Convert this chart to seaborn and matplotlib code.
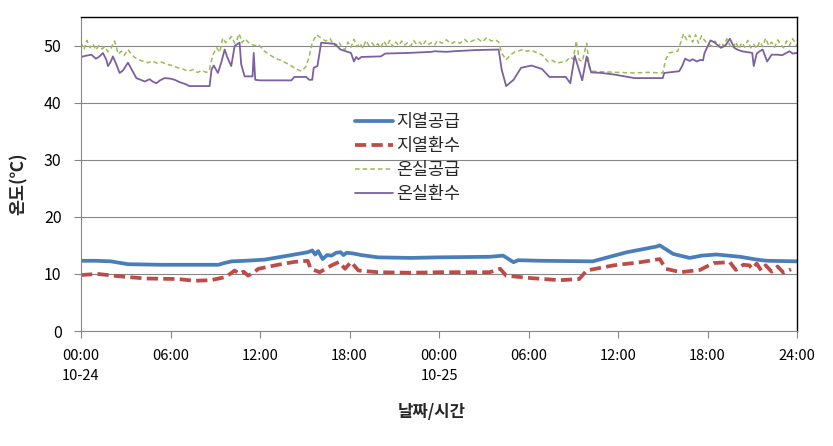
import matplotlib
matplotlib.use("Agg")
import matplotlib.pyplot as plt
import seaborn as sns
import numpy as np
import pandas as pd

sns.set_theme(style="white")
plt.rcParams['font.family'] = ['Noto Sans CJK KR', 'DejaVu Sans']

# ---- data (hours from 10-24 00:00) ----
series_names = ["지열공급", "지열환수", "온실공급", "온실환수"]

t_geo_supply = [0, 1.0, 2.0, 3.15, 5.4, 9.2, 9.6, 10.1, 11.0, 12.3, 13.2, 14.1, 15.2, 15.5, 15.7, 15.9,
                16.2, 16.5, 16.8, 17.1, 17.4, 17.6, 17.8, 18.2, 18.8, 19.9, 22.1, 23.9, 27.4, 28.3, 29.0,
                29.3, 30.8, 34.3, 36.6, 38.6, 38.8, 39.7, 40.8, 41.6, 42.6, 44.2, 45.3, 46.0, 48.0]
v_geo_supply = [12.3, 12.3, 12.2, 11.7, 11.6, 11.6, 11.9, 12.2, 12.3, 12.5, 12.9, 13.3, 13.8, 14.1, 13.4, 14.0,
                12.6, 13.3, 13.2, 13.7, 13.8, 13.3, 13.7, 13.6, 13.3, 12.9, 12.8, 12.9, 13.0, 13.2, 12.05,
                12.4, 12.3, 12.2, 13.8, 14.8, 15.0, 13.5, 12.8, 13.2, 13.4, 13.0, 12.5, 12.3, 12.2]

t_geo_return = [0, 1.1, 2.5, 4.3, 6.5, 7.6, 8.7, 9.6, 10.0, 10.3, 10.6, 10.9, 11.2, 11.5, 11.9, 13.2, 14.3,
                15.2, 15.4, 16.0, 16.8, 17.3, 17.7, 18.1, 18.6, 19.9, 22.1, 24.1, 27.4, 28.1, 28.5, 30.0,
                32.1, 33.4, 33.9, 35.7, 37.5, 38.8, 39.2, 40.2, 41.5, 42.4, 43.5, 43.9, 44.4, 44.8, 45.0,
                45.3, 45.6, 45.9, 46.3, 46.7, 47.1, 47.6]
v_geo_return = [9.8, 10.0, 9.6, 9.2, 9.1, 8.8, 8.9, 9.4, 10.0, 10.6, 10.0, 10.4, 9.7, 10.1, 10.9, 11.6, 12.1,
                12.3, 10.9, 10.3, 11.5, 12.1, 10.9, 12.1, 10.6, 10.3, 10.2, 10.3, 10.3, 10.9, 9.7, 9.3,
                8.9, 9.1, 10.6, 11.5, 12.05, 12.6, 10.9, 10.3, 10.7, 11.9, 12.05, 10.7, 11.6, 11.5, 10.9,
                11.8, 10.6, 11.5, 10.4, 11.3, 10.2, 10.8]

t_gh_supply = [0.0, 0.2, 0.4, 0.6, 0.8, 1.0, 1.2, 1.4, 1.6, 1.8, 2.0, 2.25, 2.5, 2.7, 2.9, 3.15, 3.4, 3.6,
               3.9, 4.2, 4.5, 4.8, 5.1, 5.4, 5.8, 6.1, 6.5, 6.8, 7.2, 7.5, 7.8, 8.1, 8.4, 8.6, 8.7, 8.9,
               9.1, 9.3, 9.5, 9.7, 9.9, 10.1, 10.3, 10.45, 10.6, 10.8, 11.0, 11.2, 11.4, 11.7, 11.9,
               12.3, 12.7, 13.0, 13.4, 13.7, 14.0, 14.3, 14.6, 14.8, 15.1, 15.3, 15.5, 15.8, 16.1, 16.4,
               16.7, 17.0, 17.3, 17.5, 17.7, 17.9, 18.1, 18.3, 18.5, 18.7, 18.9, 19.1, 19.3, 19.5, 19.7,
               19.9, 20.1, 20.3, 20.5, 20.7, 20.9, 21.1, 21.3, 21.5, 21.7, 21.9, 22.1, 22.3, 22.5, 22.7,
               22.9, 23.1, 23.3, 23.5, 23.7, 23.9, 24.2, 24.5, 24.8, 25.1, 25.4, 25.7, 26.0, 26.3, 26.6,
               26.9, 27.2, 27.5, 27.8, 28.0, 28.2, 28.5, 28.8, 29.1, 29.4, 29.6, 29.9, 30.2, 30.5, 30.9,
               31.1, 31.3, 31.6, 31.9, 32.2, 32.5, 32.8, 33.0, 33.2, 33.4, 33.6, 33.9, 34.1, 34.3, 35.0,
               36.0, 37.0, 38.0, 39.0, 39.2, 39.4, 39.8, 40.0, 40.2, 40.4, 40.6, 40.8, 41.0, 41.2, 41.4,
               41.6, 41.8, 42.0, 42.3, 42.5, 42.7, 42.9, 43.1, 43.3, 43.5, 43.7, 43.9, 44.1, 44.3, 44.5,
               44.7, 44.9, 45.1, 45.3, 45.5, 45.7, 45.9, 46.1, 46.3, 46.5, 46.7, 46.9, 47.1, 47.3, 47.5,
               47.7, 47.9, 48.0]
v_gh_supply = [50.5, 49.3, 50.9, 49.6, 50.3, 49.2, 50.0, 49.4, 49.8, 48.9, 49.5, 50.8, 48.5, 49.0, 48.3, 49.3,
               48.4, 47.9, 47.5, 47.2, 47.0, 47.3, 46.9, 47.1, 46.7, 46.5, 46.1, 45.9, 45.5, 45.8, 45.3,
               45.6, 45.3, 45.6, 47.0, 48.7, 49.6, 48.8, 51.3, 50.5, 51.0, 51.6, 50.4, 51.0, 52.1, 50.5,
               51.2, 50.6, 50.2, 50.0, 50.2, 49.0, 48.3, 47.8, 47.4, 47.0, 46.6, 46.1, 45.7, 45.5, 46.4,
               48.1, 50.5, 51.9, 51.3, 50.8, 51.2, 49.9, 50.6, 49.5, 49.3, 50.6, 49.7, 51.1, 49.8, 50.4,
               49.5, 50.9, 50.0, 50.5, 49.8, 50.3, 49.6, 50.8, 49.9, 50.9, 49.8, 50.6, 50.0, 50.8, 50.1,
               50.5, 49.9, 50.9, 50.2, 50.6, 50.0, 50.8, 50.2, 50.5, 50.1, 50.9, 50.4, 51.0, 50.3, 50.7,
               50.4, 51.1, 50.5, 50.9, 51.2, 50.6, 51.4, 50.8, 51.0, 50.6, 48.7, 47.5, 48.4, 48.9, 49.1,
               49.3, 49.0, 49.2, 48.8, 48.4, 47.8, 47.2, 47.4, 46.9, 47.1, 47.2, 48.0, 47.6, 50.8, 47.5,
               47.2, 50.4, 45.8, 45.5, 45.4, 45.3, 45.2, 45.3, 45.2, 47.5, 48.7, 48.9, 49.0, 50.5, 52.1,
               51.0, 51.8, 50.6, 51.9, 50.4, 51.7, 50.9, 50.3, 49.9, 50.8, 49.8, 50.5, 49.9, 51.2, 50.0,
               49.5, 50.6, 49.4, 50.5, 49.7, 50.9, 49.6, 50.2, 49.5, 50.7, 49.8, 51.3, 50.0, 50.6, 49.7,
               51.0, 50.2, 49.6, 50.8, 50.0, 51.2, 50.4, 49.9]

t_gh_return = [0.0, 0.3, 0.7, 1.0, 1.2, 1.47, 1.7, 1.81, 2.0, 2.14, 2.4, 2.59, 2.8, 3.0, 3.15, 3.4, 3.71,
               4.0, 4.27, 4.6, 4.8, 5.05, 5.3, 5.6, 6.0, 6.28, 6.6, 6.95, 7.28, 8.62, 8.75, 8.9, 9.18,
               9.4, 9.63, 9.8, 10.07, 10.3, 10.5, 10.63, 10.74, 10.97, 11.5, 11.58, 11.68, 12.0, 14.1,
               14.3, 15.1, 15.3, 15.5, 15.6, 15.85, 16.1, 17.0, 17.4, 18.1, 18.3, 18.45, 18.6, 18.8,
               20.1, 20.4, 21.9, 23.5, 23.7, 24.5, 25.0, 26.4, 28.0, 28.2, 28.5, 29.0, 29.5, 30.2, 30.9,
               31.4, 32.5, 32.8, 33.1, 33.6, 33.9, 34.2, 34.9, 35.8, 37.1, 39.0, 39.1, 40.1, 40.3, 40.5,
               40.8, 41.0, 41.3, 41.5, 41.7, 41.8, 42.2, 42.5, 42.7, 42.9, 43.2, 43.5, 43.8, 44.0, 44.3,
               44.8, 45.0, 45.1, 45.3, 45.5, 45.7, 46.0, 46.3, 46.7, 47.0, 47.5, 47.7, 48.0]
v_gh_return = [48.0, 48.2, 48.4, 47.7, 48.0, 48.7, 47.5, 46.4, 47.2, 48.1, 46.5, 45.2, 45.6, 46.4, 47.0, 45.8,
               44.3, 44.0, 43.7, 44.1, 43.7, 43.4, 43.9, 44.3, 44.2, 44.0, 43.6, 43.3, 42.9, 42.9, 45.8,
               46.5, 45.2, 47.0, 49.3, 48.0, 46.4, 49.9, 50.3, 50.5, 46.7, 44.6, 44.6, 48.7, 44.0, 43.9,
               43.9, 44.5, 44.5, 44.0, 44.0, 46.1, 46.4, 50.5, 50.3, 49.3, 48.7, 47.2, 48.0, 47.6, 48.0,
               48.1, 48.6, 48.7, 48.9, 49.0, 48.9, 49.0, 49.2, 49.3, 45.8, 42.9, 44.0, 46.1, 46.5, 45.9,
               44.5, 44.5, 43.4, 48.2, 43.9, 48.1, 45.3, 45.2, 44.9, 44.3, 44.3, 45.2, 45.5, 46.4, 47.7,
               47.3, 47.6, 47.2, 47.5, 47.4, 48.7, 50.9, 50.5, 50.0, 49.6, 50.0, 51.2, 49.6, 49.3, 49.0,
               48.8, 48.7, 46.4, 48.6, 49.0, 49.3, 47.2, 48.4, 48.4, 48.3, 49.0, 48.6, 48.7]

x_ticks = [0, 6, 12, 18, 24, 30, 36, 42, 48]
x_tick_labels = ["00:00\n10-24", "06:00", "12:00", "18:00", "00:00\n10-25", "06:00", "12:00", "18:00", "24:00"]
y_ticks = [0, 10, 20, 30, 40, 50]

colors = ["#4A7EBB", "#BE4B48", "#9BBB59", "#7D60A0"]

# ---- figure ----
fig = plt.figure(figsize=(8.33, 4.46), dpi=100)
ax = fig.add_axes([81/833, 1-331/446, 716/833, 314/446])

for y in [10, 20, 30, 40, 50]:
    ax.axhline(y, color="#868686", lw=0.8, zorder=0)

sns.lineplot(x=t_geo_supply, y=v_geo_supply, ax=ax, color=colors[0], lw=2.7,
             estimator=None, sort=False, label=series_names[0])
sns.lineplot(x=t_geo_return, y=v_geo_return, ax=ax, color=colors[1], lw=2.7,
             estimator=None, sort=False, label=series_names[1])
sns.lineplot(x=t_gh_supply, y=v_gh_supply, ax=ax, color=colors[2], lw=1.1,
             estimator=None, sort=False, label=series_names[2])
sns.lineplot(x=t_gh_return, y=v_gh_return, ax=ax, color=colors[3], lw=1.3,
             estimator=None, sort=False, label=series_names[3])
lines = ax.get_lines()
lines[-3].set_linestyle((0, (3, 1.4)))
lines[-2].set_linestyle((0, (3, 2)))

ax.set_xlim(0, 48)
ax.set_ylim(0, 55)
ax.set_xticks(x_ticks)
ax.set_xticklabels(x_tick_labels, fontsize=10.5, linespacing=1.5, multialignment="left")
ax.set_yticks(y_ticks)
ax.set_yticklabels([str(v) for v in y_ticks], fontsize=11.5)
ax.tick_params(axis="both", which="both", direction="out", length=5, width=0.8, color="#868686",
               colors="black", bottom=True, left=True)
ax.tick_params(axis="x", pad=8)
ax.tick_params(axis="y", pad=9)

for s in ["left", "bottom"]:
    ax.spines[s].set_color("#868686")
    ax.spines[s].set_linewidth(0.8)
for s in ["top", "right"]:
    ax.spines[s].set_color("black")
    ax.spines[s].set_linewidth(1.0)

ax.set_xlabel("날짜/시간", fontsize=12, fontweight="bold")
ax.set_ylabel("온도(℃)", fontsize=12.5, fontweight="bold")
ax.xaxis.set_label_coords(0.49, -0.228)
ax.yaxis.set_label_coords(-0.074, 0.47)

leg = ax.legend(loc="upper left", bbox_to_anchor=(343/833, 1-101/446), bbox_transform=fig.transFigure,
                frameon=False, fontsize=12.5, handlelength=2.2, handletextpad=0.15, labelspacing=0.34,
                borderpad=0.2)

fig.savefig("out.png", dpi=100)
